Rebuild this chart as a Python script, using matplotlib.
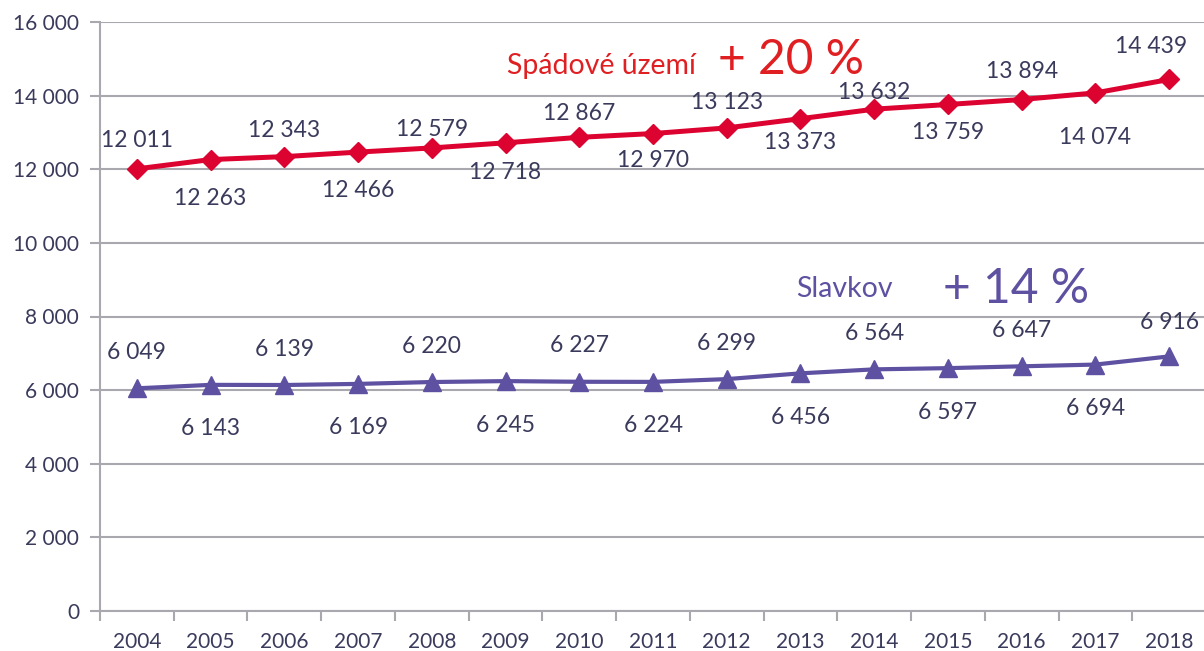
import matplotlib
matplotlib.use("Agg")
import matplotlib.pyplot as plt
from matplotlib.ticker import FixedLocator, FuncFormatter

years = ["2004", "2005", "2006", "2007", "2008", "2009", "2010", "2011",
         "2012", "2013", "2014", "2015", "2016", "2017", "2018"]
spadove = [12011, 12263, 12343, 12466, 12579, 12718, 12867, 12970,
           13123, 13373, 13632, 13759, 13894, 14074, 14439]
slavkov = [6049, 6143, 6139, 6169, 6220, 6245, 6227, 6224,
           6299, 6456, 6564, 6597, 6647, 6694, 6916]
y_ticks = [0, 2000, 4000, 6000, 8000, 10000, 12000, 14000, 16000]
name_spadove = "Spádové území"
name_slavkov = "Slavkov"
growth_spadove = "+ 20 %"
growth_slavkov = "+ 14 %"

# label offsets in pixels (style/layout)
off_red = [-28, 39, -26, 38, -18, 30, -24, 27, -25, 24, -17, 28, -28, 45, -33]
off_pur = [-36, 44] * 7 + [-34]

RED = "#DC0330"
RED_TXT = "#E01F22"
PUR = "#5E51A1"
TXT = "#3A3A5C"
GRID = "#A8A8AE"
FONT = ["Lato", "DejaVu Sans"]

plt.rcParams["font.family"] = FONT

W, H = 1204, 651
fig = plt.figure(figsize=(W / 100, H / 100), dpi=100)
ax = fig.add_axes([100 / W, 1 - 611 / H, 1106 / W, 589 / H])

x = list(range(len(years)))
ax.plot(x, spadove, color=RED, lw=3.6, marker="D", ms=10.5, zorder=4,
        solid_joinstyle="round")
ax.plot(x, slavkov, color=PUR, lw=3.0, marker="^", ms=13, zorder=4,
        solid_joinstyle="round")

ax.set_xlim(-0.5, len(years) - 0.5)
ax.set_ylim(0, 16000)
ax.yaxis.set_major_locator(FixedLocator(y_ticks))
ax.yaxis.set_major_formatter(FuncFormatter(lambda v, p: f"{int(v):,}".replace(",", " ")))
ax.set_xticks(x)
ax.set_xticklabels(years)
ax.set_xticks([i - 0.5 for i in range(len(years) + 1)], minor=True)
ax.tick_params(axis="x", which="major", length=0, pad=15, labelsize=15, labelcolor=TXT)
ax.tick_params(axis="x", which="minor", length=7, width=1.5, color=GRID, direction="out")
ax.tick_params(axis="y", which="major", length=7, width=1.5, color=GRID,
               labelsize=15, labelcolor=TXT, pad=8)

ax.grid(axis="y", color=GRID, lw=1.5, zorder=1)
ax.set_axisbelow(True)
for s in ["top", "right"]:
    ax.spines[s].set_visible(False)
for s in ["left", "bottom"]:
    ax.spines[s].set_color(GRID)
    ax.spines[s].set_linewidth(1.5)

px2pt = 72 / 100
for i, v in enumerate(spadove):
    dx = -18 if i == len(years) - 1 else 0
    ax.annotate(f"{v:,}".replace(",", " "), (i, v),
                xytext=(dx * px2pt, -off_red[i] * px2pt), textcoords="offset points",
                ha="center", va="center", fontsize=16.5, color=TXT, zorder=5)
for i, v in enumerate(slavkov):
    ax.annotate(f"{v:,}".replace(",", " "), (i, v),
                xytext=(0, -off_pur[i] * px2pt), textcoords="offset points",
                ha="center", va="center", fontsize=16.5, color=TXT, zorder=5)

def ft(xp, yp, s, **kw):
    fig.text(xp / W, 1 - yp / H, s, ha="center", va="center", **kw)

ft(601, 66, name_spadove, fontsize=20.5, color=RED_TXT)
ft(791, 60, growth_spadove, fontsize=34.5, color=RED_TXT)
ft(844, 289, name_slavkov, fontsize=20.5, color=PUR)
ft(1016, 289, growth_slavkov, fontsize=34.5, color=PUR)

fig.savefig("out.png", dpi=100)
